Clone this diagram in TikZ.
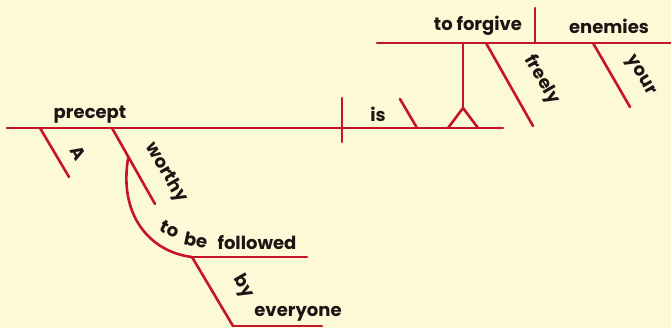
\documentclass[tikz,border=0pt]{standalone}
\usetikzlibrary{calc}
\usepackage{fontspec}
\setmainfont{Poppins}
\definecolor{bg}{RGB}{252,249,214}
\definecolor{dred}{RGB}{196,22,38}
\definecolor{ink}{RGB}{30,20,20}
\begin{document}
\begin{tikzpicture}[x=1pt,y=-1pt,
  rl/.style={draw=dred,line width=2.6pt,line cap=round},
  wd/.style={text=ink,font=\fontsize{18}{21}\selectfont\bfseries,inner sep=0pt},
  sl/.style={wd,rotate=-60}]
\fill[bg] (0,0) rectangle (671,328);
\useasboundingbox (0,0) rectangle (671,328);
% coordinates
\coordinate (m1) at (7,128); \coordinate (m2) at (503,128);
\coordinate (d1) at (342,98); \coordinate (d2) at (342,142);
\coordinate (is1) at (400,99); \coordinate (is2) at (417,128);
\coordinate (pl) at (448,128); \coordinate (pa) at (463,108); \coordinate (pr) at (478,128);
\coordinate (u1) at (377,43); \coordinate (u2) at (671,43);
\coordinate (st) at (463,43);
\coordinate (ud1) at (535,8); \coordinate (ud2) at (535,43);
\coordinate (f1) at (486,43); \coordinate (f2) at (533,126);
\coordinate (y1) at (593,43); \coordinate (y2) at (630,107);
\coordinate (a1) at (40,128); \coordinate (a2) at (69,177);
\coordinate (w1) at (112,128); \coordinate (w2) at (155,204);
\coordinate (c0) at ($(w1)!0.38!(w2)$);
\coordinate (fo1) at (192,257); \coordinate (fo2) at (307,257);
\coordinate (b2) at (233,326); \coordinate (e2) at (322,326);
% lines
\draw[rl] (m1) -- (m2);
\draw[rl] (d1) -- (d2);
\draw[rl] (is1) -- (is2);
\draw[rl,line join=round] (pl) -- (pa) -- (pr);
\draw[rl] (pa) -- (st);
\draw[rl] (u1) -- (u2);
\draw[rl] (ud1) -- (ud2);
\draw[rl] (f1) -- (f2);
\draw[rl] (y1) -- (y2);
\draw[rl] (a1) -- (a2);
\draw[rl] (w1) -- (w2);
\draw[rl] (c0) .. controls (118,215) and (150,252) .. (fo1);
\draw[rl] (fo1) -- (fo2);
\draw[rl] (fo1) -- (b2);
\draw[rl] (b2) -- (e2);
% words
\node[wd] (precept) at (90,115) {precept};
\node[sl] (A) at (78,153) {A};
\node[sl] (worthy) at (166,173) {worthy};
\node[wd,rotate=-28] (to) at (170,229) {to};
\node[wd,rotate=-12] (be) at (196,240) {be};
\node[wd] (followed) at (257,243) {followed};
\node[sl] (by) at (243,287) {by};
\node[wd] (everyone) at (298,314) {everyone};
\node[wd] (is) at (378,114) {is};
\node[wd] (forgive) at (478,26) {to forgive};
\node[wd] (enemies) at (609,26) {enemies};
\node[sl] (freely) at (542,80) {freely};
\node[sl] (your) at (640,76) {your};
\end{tikzpicture}
\end{document}
